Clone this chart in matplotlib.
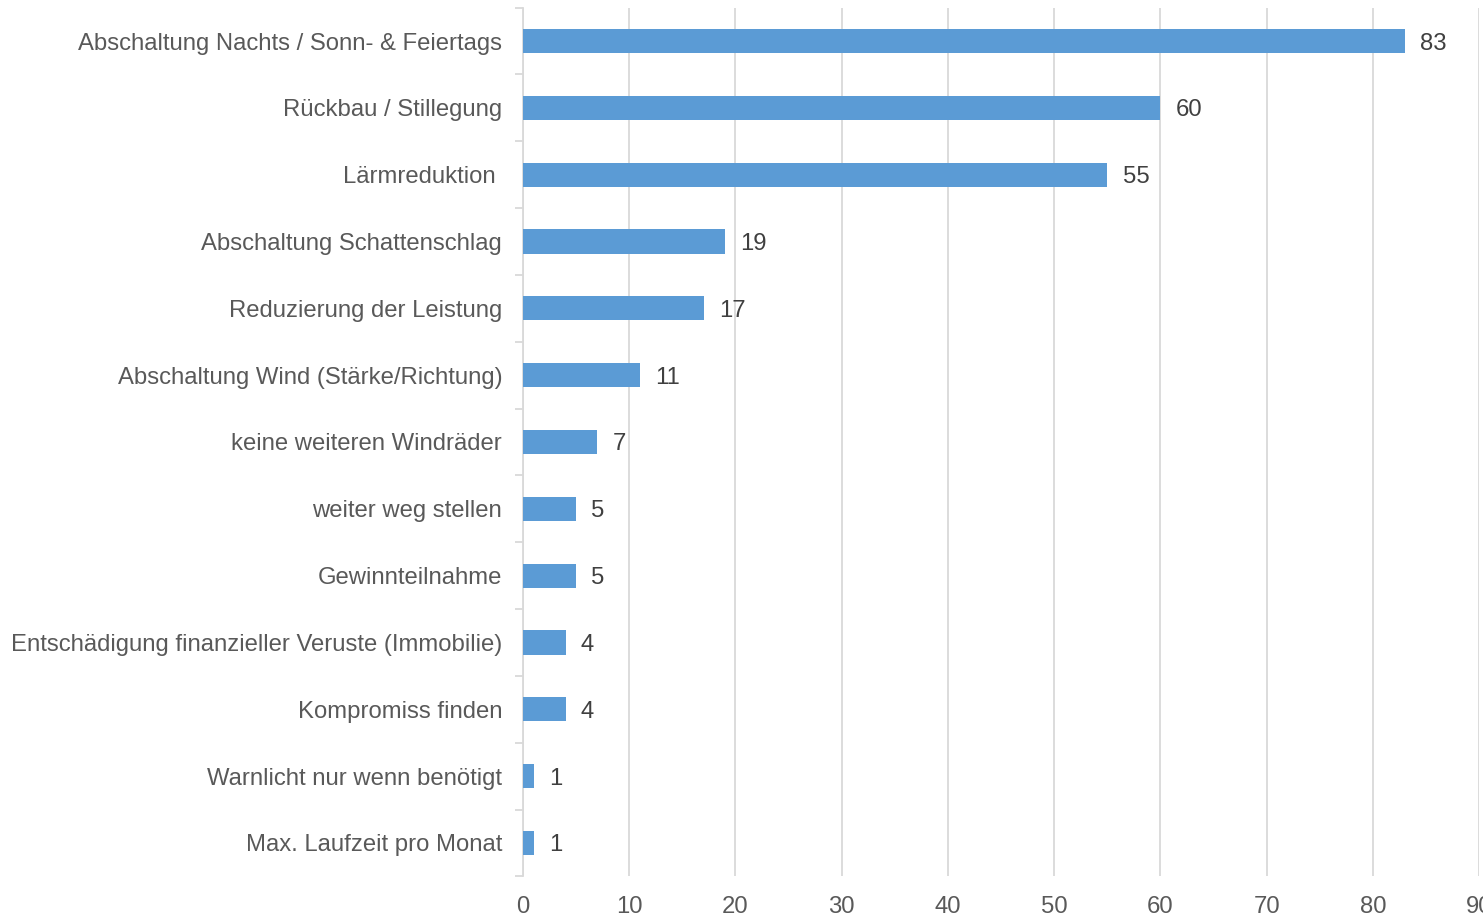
import matplotlib.pyplot as plt
import numpy as np

plt.rcParams['font.family'] = ['Liberation Sans', 'DejaVu Sans']

kategorien = ['Abschaltung Nachts / Sonn- & Feiertags', 'Rückbau / Stillegung', 'Lärmreduktion ',
              'Abschaltung Schattenschlag', 'Reduzierung der Leistung',
              'Abschaltung Wind (Stärke/Richtung)', 'keine weiteren Windräder',
              'weiter weg stellen', 'Gewinnteilnahme',
              'Entschädigung finanzieller Veruste (Immobilie)', 'Kompromiss finden',
              'Warnlicht nur wenn benötigt', 'Max. Laufzeit pro Monat']
anzahl = [83, 60, 55, 19, 17, 11, 7, 5, 5, 4, 4, 1, 1]
x_ticks = [0, 10, 20, 30, 40, 50, 60, 70, 80, 90]

textfarbe = '#595959'
linienfarbe = '#D9D9D9'

fig = plt.figure(figsize=(14.83, 9.17), dpi=100)
ax = fig.add_axes([0.3527, 0.0443, 0.6446, 0.9474])

y = np.arange(len(kategorien))
ax.barh(y, anzahl, height=0.36, color='#5B9BD5', zorder=3)
for yi, wert in zip(y, anzahl):
    ax.annotate(str(wert), (wert, yi), xytext=(11, 0), textcoords='offset points',
                va='center_baseline', ha='left', fontsize=17.2, color='#404040')

ax.set_ylim(len(kategorien) - 0.5, -0.5)
ax.set_xlim(0, 90)
ax.set_yticks(y)
ax.set_yticklabels(kategorien, fontsize=17.2, color=textfarbe)
ax.set_yticks(np.arange(-0.5, len(kategorien)), minor=True)
ax.tick_params(axis='y', which='major', length=0, pad=15)
ax.tick_params(axis='y', which='minor', length=6, color=linienfarbe, width=1.3)
ax.set_xticks(x_ticks)
ax.set_xticklabels([str(t) for t in x_ticks], fontsize=17.2, color=textfarbe)
ax.tick_params(axis='x', length=0, pad=14)

ax.grid(axis='x', color=linienfarbe, linewidth=1.3, zorder=0)
for s in ['top', 'right', 'bottom']:
    ax.spines[s].set_visible(False)
ax.spines['left'].set_color(linienfarbe)
ax.spines['left'].set_linewidth(1.3)

fig.savefig('out.png', dpi=100)
